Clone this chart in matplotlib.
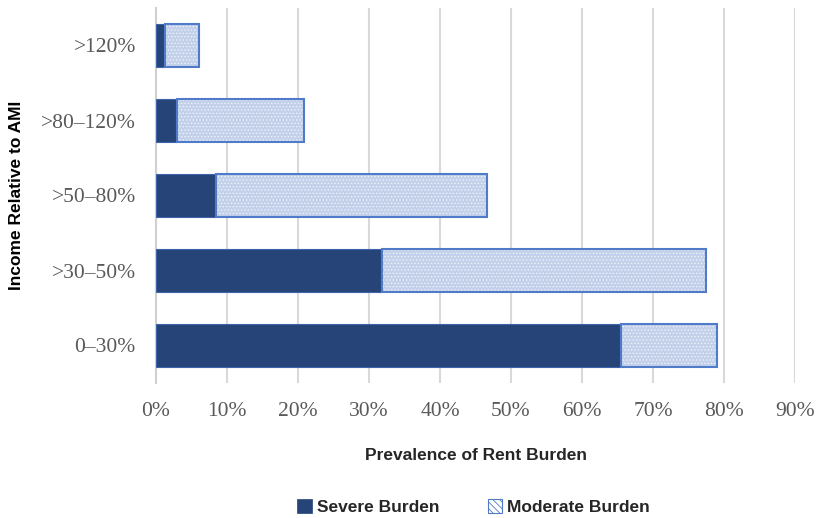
import matplotlib
matplotlib.use("Agg")
import matplotlib.pyplot as plt
from matplotlib.patches import Patch
import numpy as np

# Rent burden by income band (share of renter households)
categories = ["0\u201330%", ">30\u201350%", ">50\u201380%", ">80\u2013120%", ">120%"]
severe = [65.5, 31.8, 8.5, 2.9, 1.3]
moderate = [13.5, 45.6, 38.1, 18.0, 4.8]
x_ticks = [0, 10, 20, 30, 40, 50, 60, 70, 80, 90]
x_tick_labels = [f"{v}%" for v in x_ticks]

SEVERE = "#264478"
MODERATE_FILL = "#c2d0ea"
MODERATE_EDGE = "#4f7bc8"

plt.rcParams["hatch.linewidth"] = 0.6

fig = plt.figure(figsize=(8.19, 5.18), dpi=100)
ax = fig.add_axes([156 / 819, 1 - 383 / 518, (795 - 156) / 819, (383 - 8) / 518])

y = np.arange(len(categories))
h = 0.57

ax.barh(y, severe, height=h, color=SEVERE, edgecolor="#3d64aa", linewidth=0.8, zorder=3)
# dotted texture layer, then the outline on top
ax.barh(y, moderate, left=severe, height=h, facecolor=MODERATE_FILL,
        edgecolor="#eef2fa", linewidth=0, hatch=".....", zorder=3)
ax.barh(y, moderate, left=severe, height=h, fill=False,
        edgecolor=MODERATE_EDGE, linewidth=1.5, zorder=4)

ax.set_xlim(0, 90)
ax.set_ylim(-0.5, len(categories) - 0.5)
ax.set_xticks(x_ticks)
ax.set_xticklabels(x_tick_labels)
ax.set_yticks(y)
ax.set_yticklabels(categories)

serif = ["Liberation Serif", "DejaVu Serif"]
for lab in ax.get_xticklabels() + ax.get_yticklabels():
    lab.set_fontfamily(serif)
    lab.set_fontsize(15.5)
    lab.set_color("#595959")

ax.tick_params(axis="both", length=0)
ax.tick_params(axis="y", pad=14.5)
ax.tick_params(axis="x", pad=14)
ax.grid(axis="x", color="#d9d9d9", linewidth=1.5, zorder=0)
ax.set_axisbelow(True)
for s in ["top", "right", "bottom"]:
    ax.spines[s].set_visible(False)
ax.spines["left"].set_color("#d0d0d0")
ax.spines["left"].set_linewidth(1.5)

sans = ["Liberation Sans", "DejaVu Sans"]
fig.text(475.5 / 819, 1 - 455 / 518, "Prevalence of Rent Burden", ha="center", va="center",
         fontsize=12.5, fontweight="bold", family=sans, color="#262626")
fig.text(17 / 819, 1 - 195.5 / 518, "Income Relative to AMI", ha="center", va="center",
         rotation=90, fontsize=12.5, fontweight="bold", family=sans, color="#000000")

handles = [
    Patch(facecolor=SEVERE, edgecolor=SEVERE, linewidth=0.5),
    Patch(facecolor="white", edgecolor=MODERATE_EDGE, hatch="\\\\\\\\\\", linewidth=0.8),
]
leg = fig.legend(handles, ["Severe Burden", "Moderate Burden"], loc="center",
                 bbox_to_anchor=(473.5 / 819, 1 - 507 / 518), ncol=2, frameon=False,
                 prop={"family": sans, "weight": "bold", "size": 12.5},
                 handlelength=0.85, handleheight=0.85, handletextpad=0.25, columnspacing=2.8)
for t in leg.get_texts():
    t.set_color("#262626")

fig.savefig("out.png", dpi=100)
